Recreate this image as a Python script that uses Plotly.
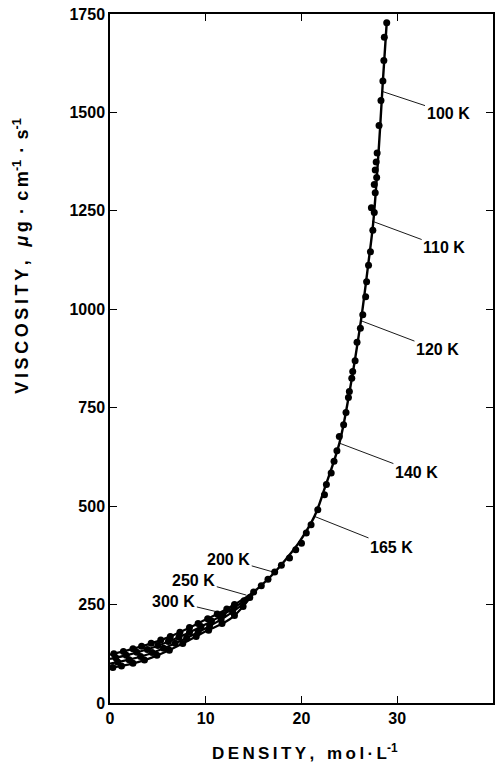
import plotly.graph_objects as go

# ---- dense-fluid branch (100 K ... 165 K isotherms collapse onto one curve)
dense_curve_density = [15.3, 16.8, 18.4, 19.8, 21.35, 22.47, 23.96, 25.0, 26.2, 27.0, 27.5, 28.05, 28.5, 28.9]
dense_curve_viscosity = [288, 322, 366, 410, 474, 549, 660, 788, 970, 1120, 1222, 1400, 1580, 1728]

dense_pts_density = [15.0, 15.8, 16.5, 17.2, 17.9, 18.75, 19.4, 20.0, 20.5, 21.0, 21.7, 22.4, 22.6,
                     23.1, 23.4, 23.7, 23.95, 24.4, 24.65, 24.9, 25.0, 25.25, 25.35, 25.6, 25.8,
                     26.15, 26.4, 26.7, 26.8, 27.0, 27.2, 27.45, 27.6, 27.3, 27.7, 27.6, 27.85,
                     27.7, 27.8, 27.9, 28.1, 28.3, 28.5, 28.6, 28.65, 28.9]
dense_pts_viscosity = [282, 298, 314, 333, 350, 368, 389, 406, 432, 453, 491, 529, 555,
                       584, 614, 641, 677, 707, 738, 776, 791, 825, 842, 869, 916,
                       952, 986, 1032, 1070, 1112, 1146, 1201, 1246, 1258, 1296, 1317, 1335,
                       1354, 1374, 1397, 1467, 1530, 1580, 1632, 1691, 1728]

# ---- low-density isotherms (curve nodes, then measured points)
iso_names = ["300 K", "250 K", "200 K", "low"]
iso_curve_density = [
    [0, 2, 4, 6, 8, 10, 12, 14, 15.3],
    [0, 2, 4, 6, 8, 10, 12, 14, 15.3],
    [0, 2, 4, 6, 8, 10, 12, 14, 15.3],
    [0, 2, 4, 6, 8, 10, 12, 13, 14, 15.3],
]
iso_curve_viscosity = [
    [123, 135, 149, 166, 188, 212, 236, 265, 288],
    [112, 123, 137, 155, 176, 200, 227, 260, 288],
    [100, 110, 124, 143, 165, 190, 218, 254, 288],
    [89, 98, 112, 132, 156, 182, 205, 222, 248, 288],
]
iso_pts_density = [
    [0.4, 1.4, 2.4, 3.3, 4.3, 5.3, 6.3, 7.3, 8.3, 9.2, 10.2, 11.2, 12.2, 13.0],
    [0.6, 1.7, 2.8, 3.9, 5.0, 6.1, 7.2, 8.3, 9.5, 10.6, 11.8, 12.9, 14.0],
    [0.8, 2.0, 3.2, 4.4, 5.6, 6.8, 8.0, 9.2, 10.4, 11.6, 12.8, 14.6],
    [0.3, 1.2, 2.4, 3.6, 4.9, 6.2, 7.6, 9.0, 10.3, 11.7, 13.0, 13.9],
]
iso_pts_viscosity = [
    [125, 131, 138, 144, 152, 160, 169, 180, 192, 202, 214, 226, 239, 250],
    [115, 121, 129, 136, 146, 156, 167, 180, 194, 208, 224, 242, 260],
    [104, 110, 118, 128, 139, 152, 165, 180, 196, 212, 232, 268],
    [90, 94, 101, 109, 121, 134, 151, 169, 185, 202, 222, 245],
]

# ---- isotherm labels: text position and the curve point its leader touches
label_text = ["100 K", "110 K", "120 K", "140 K", "165 K", "200 K", "250 K", "300 K"]
label_x = [35.3, 34.9, 34.2, 32.0, 29.4, 12.4, 8.75, 6.67]
label_y = [1498, 1156, 897, 586, 396, 365, 312, 258]
leader_x = [28.47, 27.36, 26.2, 23.96, 21.35, 17.0, 14.24, 11.28]
leader_y = [1553, 1224, 971, 660, 474, 333, 274, 231]

x_ticks = [0, 10, 20, 30, 40]
y_ticks = [0, 250, 500, 750, 1000, 1250, 1500, 1750]

FONT = "Liberation Sans"
INK = "black"
THIN = "\u2009"


def spaced(s):
    """Open up the letter spacing with thin spaces."""
    return THIN.join(s)


fig = go.Figure()

for xs, ys in zip(iso_curve_density, iso_curve_viscosity):
    fig.add_trace(go.Scatter(x=xs, y=ys, mode="lines", line=dict(color=INK, width=2.2, shape="spline"),
                             hoverinfo="skip"))
fig.add_trace(go.Scatter(x=dense_curve_density, y=dense_curve_viscosity, mode="lines",
                         line=dict(color=INK, width=2.4, shape="spline"), hoverinfo="skip"))

for xs, ys in zip(iso_pts_density, iso_pts_viscosity):
    fig.add_trace(go.Scatter(x=xs, y=ys, mode="markers", marker=dict(color=INK, size=7)))
fig.add_trace(go.Scatter(x=dense_pts_density, y=dense_pts_viscosity, mode="markers",
                         marker=dict(color=INK, size=7)))

for t, tx, ty, px, py in zip(label_text, label_x, label_y, leader_x, leader_y):
    fig.add_annotation(x=px, y=py, ax=tx, ay=ty, axref="x", ayref="y", xref="x", yref="y",
                       text=t, showarrow=True, arrowhead=0, arrowwidth=0.9, arrowcolor=INK,
                       standoff=0, font=dict(family=FONT, size=16, color=INK, weight="bold"))

x_title = spaced("DENSITY,") + " " + THIN + " " + spaced("mol·L") + "<sup>-1</sup>"

SEP = THIN + THIN + "·" + THIN + THIN
y_title = (spaced("VISCOSITY,") + " " + THIN + " <i>μ</i>" + THIN + "g" + SEP + "c" + THIN + "m"
           + "<sup>-1</sup>" + SEP + "s" + "<sup>-1</sup>")

fig.add_annotation(xref="paper", yref="paper", x=0.51, y=-0.071, xanchor="center", yanchor="middle",
                   text=x_title, showarrow=False,
                   font=dict(family=FONT, size=17, color=INK, weight="bold"))
fig.add_annotation(xref="paper", yref="paper", x=-0.232, y=0.648, xanchor="center", yanchor="middle",
                   textangle=-90, text=y_title, showarrow=False,
                   font=dict(family=FONT, size=18, color=INK, weight="bold"))

axis_common = dict(showline=True, linecolor=INK, linewidth=1.5, mirror="ticks", ticks="inside",
                   ticklen=7, tickwidth=1.3, tickcolor=INK, showgrid=False, zeroline=False,
                   tickfont=dict(family=FONT, size=16, color=INK, weight="bold"))

fig.update_xaxes(range=[0, 40], tickvals=x_ticks, **axis_common)
fig.update_yaxes(range=[0, 1750], tickvals=y_ticks, **axis_common)

fig.update_layout(width=501, height=773, showlegend=False, plot_bgcolor="white", paper_bgcolor="white",
                  margin=dict(l=110, r=6, t=12, b=70))

fig.write_html("out.html")
